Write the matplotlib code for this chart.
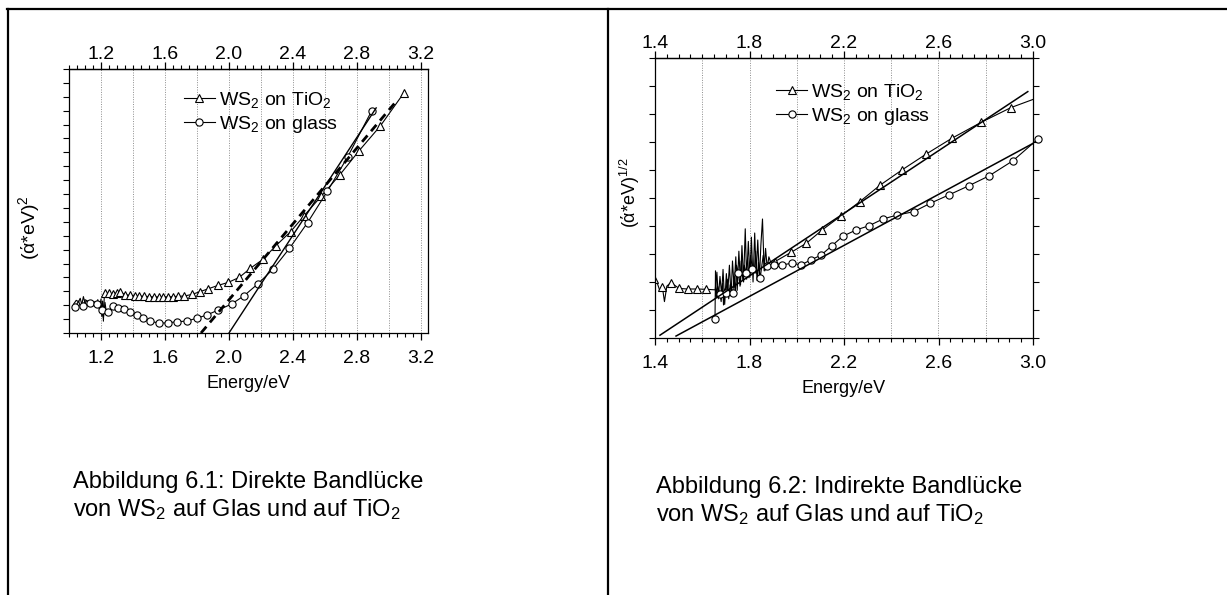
import numpy as np
import matplotlib
matplotlib.use('Agg')
import matplotlib.pyplot as plt
from matplotlib.lines import Line2D
from matplotlib.ticker import FixedLocator, MultipleLocator, NullFormatter, FormatStrFormatter

plt.rcParams['font.family'] = ['Liberation Sans', 'DejaVu Sans']
plt.rcParams['mathtext.fontset'] = 'custom'
plt.rcParams['mathtext.rm'] = 'Liberation Sans'
plt.rcParams['mathtext.it'] = 'Liberation Sans'
plt.rcParams['mathtext.bf'] = 'Liberation Sans'

# === data: direct band gap (left) ===
dir_ticks = [1.2, 1.6, 2.0, 2.4, 2.8, 3.2]
dir_tio2_x = [1.225, 1.25, 1.275, 1.30, 1.32, 1.35, 1.38, 1.41, 1.44, 1.47, 1.50, 1.53, 1.56,
              1.59, 1.62, 1.65, 1.68, 1.72, 1.77, 1.82, 1.87, 1.93, 1.995, 2.064, 2.133,
              2.212, 2.291, 2.385, 2.47, 2.578, 2.694, 2.812, 2.946, 3.094]
dir_tio2_y = [2.85, 2.88, 2.80, 2.90, 2.97, 2.75, 2.72, 2.68, 2.66, 2.64, 2.62, 2.60, 2.60,
              2.60, 2.60, 2.62, 2.64, 2.66, 2.78, 2.98, 3.18, 3.42, 3.64, 4.00, 4.65,
              5.30, 6.26, 7.29, 8.45, 9.86, 11.4, 13.1, 14.9, 17.29]
# noisy part of the TiO2 trace, drawn without markers
dir_tio2_nx = [1.03, 1.045, 1.06, 1.07, 1.08, 1.09, 1.10, 1.11, 1.12, 1.135, 1.15, 1.16,
               1.17, 1.18, 1.19, 1.20, 1.205, 1.21, 1.215, 1.22]
dir_tio2_ny = [2.10, 2.35, 2.25, 2.50, 2.05, 2.62, 2.15, 2.35, 2.20, 2.30, 2.10, 2.25,
               2.05, 2.40, 1.70, 2.45, 1.20, 2.30, 0.85, 2.50]
dir_glass_x = [1.04, 1.09, 1.131, 1.173, 1.204, 1.246, 1.277, 1.308, 1.344, 1.381, 1.423,
               1.465, 1.506, 1.565, 1.621, 1.677, 1.735, 1.798, 1.86, 1.933, 2.017, 2.094,
               2.18, 2.274, 2.378, 2.491, 2.615, 2.743, 2.891]
dir_glass_y = [1.89, 1.94, 2.18, 2.09, 1.65, 1.53, 1.94, 1.82, 1.70, 1.53, 1.29,
               1.06, 0.86, 0.70, 0.74, 0.81, 0.86, 1.06, 1.29, 1.65, 2.09, 2.68,
               3.53, 4.58, 6.09, 7.94, 10.2, 12.7, 15.97]
dir_glass_nx = [1.06, 1.075, 1.10, 1.15, 1.19, 1.215, 1.225, 1.235]
dir_glass_ny = [2.30, 1.75, 2.40, 1.95, 2.25, 1.10, 2.20, 1.35]
dir_fit_solid_x = [2.0, 2.92]
dir_fit_solid_y = [0.0, 16.2]
dir_fit_dash_x = [1.825, 3.04]
dir_fit_dash_y = [0.0, 16.6]

# === data: indirect band gap (right) ===
ind_ticks = [1.4, 1.8, 2.2, 2.6, 3.0]
ind_tio2_x = [1.397, 1.431, 1.467, 1.502, 1.538, 1.577, 1.616, 1.908, 1.976, 2.04, 2.108,
              2.187, 2.267, 2.353, 2.445, 2.548, 2.656, 2.78, 2.907]
ind_tio2_y = [2.10, 1.83, 1.98, 1.77, 1.75, 1.75, 1.74, 2.73, 3.06, 3.38, 3.86,
              4.36, 4.87, 5.46, 6.00, 6.57, 7.13, 7.70, 8.23]
ind_tio2_nx = [1.41, 1.42, 1.44, 1.45, 1.655, 1.662, 1.668, 1.675, 1.682, 1.688, 1.695,
               1.702, 1.708, 1.715, 1.722, 1.728, 1.735, 1.742, 1.748, 1.755, 1.762,
               1.768, 1.775, 1.782, 1.788, 1.795, 1.802, 1.808, 1.815, 1.822, 1.828,
               1.835, 1.842, 1.848, 1.855, 1.862, 1.868, 1.875, 1.882, 1.890, 3.0]
ind_tio2_ny = [1.95, 1.70, 1.30, 1.85, 1.72, 2.35, 1.40, 2.20, 1.55, 2.45, 1.20,
               2.30, 1.65, 2.60, 1.50, 2.75, 1.80, 2.90, 1.70, 3.10, 1.90,
               3.30, 2.00, 3.90, 2.10, 3.45, 2.20, 3.60, 2.00, 3.75, 2.30,
               3.50, 2.10, 3.30, 4.25, 2.40, 3.20, 2.50, 2.90, 2.70, 8.52]
ind_glass_x = [1.654, 1.675, 1.70, 1.729, 1.753, 1.784, 1.812, 1.845, 1.873, 1.905, 1.938,
               1.979, 2.018, 2.06, 2.103, 2.148, 2.196, 2.252, 2.306, 2.365, 2.424,
               2.495, 2.565, 2.644, 2.729, 2.814, 2.915, 3.02]
ind_glass_y = [0.67, 1.57, 1.62, 1.60, 2.33, 2.31, 2.45, 2.13, 2.57, 2.61, 2.61,
               2.67, 2.61, 2.79, 2.96, 3.29, 3.64, 3.86, 4.01, 4.25, 4.39,
               4.51, 4.81, 5.11, 5.44, 5.79, 6.33, 7.10]
ind_glass_nx = [1.656, 1.660, 1.665, 1.680, 1.686, 1.690, 1.695, 1.706, 1.712, 1.718,
                1.735, 1.740, 1.745, 1.760, 1.765, 1.772, 1.778, 1.792, 1.798, 1.805,
                1.820, 1.826, 1.832, 1.838, 1.858, 1.865]
ind_glass_ny = [2.40, 1.45, 1.85, 1.30, 1.95, 1.18, 1.75, 2.10, 1.40, 1.90,
                2.20, 1.55, 2.60, 1.85, 2.75, 2.05, 2.60, 2.85, 2.15, 2.95,
                2.35, 3.10, 2.05, 2.70, 2.95, 2.40]
ind_fit1_x = [1.421, 2.978]
ind_fit1_y = [0.10, 8.80]
ind_fit2_x = [1.489, 3.0]
ind_fit2_y = [0.07, 6.95]

labels = [r'WS$_2$ on TiO$_2$', r'WS$_2$ on glass']

W, H = 1227, 595
MS = 5.2
fig = plt.figure(figsize=(W / 100, H / 100), dpi=100)


def px_axes(l, t, r, b):
    return fig.add_axes([l / W, 1 - b / H, (r - l) / W, (b - t) / H])


def trace(ax, mx, my, nx, ny, marker, clip=True):
    x = np.concatenate([mx, nx])
    y = np.concatenate([my, ny])
    o = np.argsort(x)
    ax.plot(x[o], y[o], color='black', lw=0.8, clip_on=clip)
    ax.plot(mx, my, ls='none', marker=marker, ms=MS, mfc='white', mec='black',
            mew=0.8, clip_on=clip)


def style(ax, ticks, xlim, ylim, grid, right_ticks):
    ax.set_xlim(*xlim)
    ax.set_ylim(*ylim)
    for g in grid:
        ax.axvline(g, color='#8c8c8c', ls=(0, (1, 1.5)), lw=0.7, zorder=0)
    ax.xaxis.set_major_locator(FixedLocator(ticks))
    ax.xaxis.set_minor_locator(MultipleLocator(0.05))
    ax.xaxis.set_major_formatter(FormatStrFormatter('%.1f'))
    ax.yaxis.set_major_locator(MultipleLocator(1))
    ax.yaxis.set_major_formatter(NullFormatter())
    ax.tick_params(axis='x', which='major', direction='out', length=5, width=0.9,
                   labelsize=14, pad=7)
    ax.tick_params(axis='x', which='minor', direction='out', length=3, width=0.8)
    ax.tick_params(axis='y', direction='out', length=4, width=0.8)
    if right_ticks:
        ax.tick_params(axis='y', which='major', right=True)
    sec = ax.secondary_xaxis('top')
    sec.xaxis.set_major_locator(FixedLocator(ticks))
    sec.xaxis.set_minor_locator(MultipleLocator(0.05))
    sec.xaxis.set_major_formatter(FormatStrFormatter('%.1f'))
    sec.tick_params(axis='x', which='major', direction='out', length=5, width=0.9,
                    labelsize=14, pad=-1)
    sec.tick_params(axis='x', which='minor', direction='out', length=3, width=0.8)
    for s in ax.spines.values():
        s.set_linewidth(0.9)
    sec.spines['top'].set_linewidth(0.9)
    ax.set_xlabel('Energy/eV', fontsize=13, labelpad=6)


def legend(ax, anchor):
    handles = [Line2D([], [], color='black', lw=0.8, marker=m, ms=MS, mfc='white',
                      mec='black', mew=0.8) for m in ['^', 'o']]
    ax.legend(handles, labels, loc='upper left', bbox_to_anchor=anchor, frameon=False,
              fontsize=14, handlelength=1.6, handletextpad=0.2, labelspacing=0.2,
              borderpad=0, borderaxespad=0)


# --- left panel ---
ax1 = px_axes(69, 69, 428, 333)
trace(ax1, dir_tio2_x, dir_tio2_y, dir_tio2_nx, dir_tio2_ny, '^')
trace(ax1, dir_glass_x, dir_glass_y, dir_glass_nx, dir_glass_ny, 'o')
ax1.plot(dir_fit_solid_x, dir_fit_solid_y, color='black', lw=1.0)
ax1.plot(dir_fit_dash_x, dir_fit_dash_y, color='black', lw=2.0, ls=(0, (3, 2)))
style(ax1, dir_ticks, (1.0, 3.244), (0, 19), np.arange(1.2, 3.21, 0.2), False)
ax1.set_ylabel('(ά*eV)$^2$', fontsize=14)
ax1.yaxis.set_label_coords(-0.075, 0.40)
legend(ax1, (0.32, 0.92))

# --- right panel ---
ax2 = px_axes(655, 58, 1033, 338)
trace(ax2, ind_tio2_x, ind_tio2_y, ind_tio2_nx, ind_tio2_ny, '^')
trace(ax2, ind_glass_x, ind_glass_y, ind_glass_nx, ind_glass_ny, 'o', clip=False)
ax2.plot(ind_fit1_x, ind_fit1_y, color='black', lw=1.1)
ax2.plot(ind_fit2_x, ind_fit2_y, color='black', lw=1.1)
style(ax2, ind_ticks, (1.4, 3.0), (0, 10), np.arange(1.6, 2.81, 0.2), True)
ax2.set_ylabel('(ά*eV)$^{1/2}$', fontsize=13)
ax2.yaxis.set_label_coords(-0.034, 0.52)
legend(ax2, (0.32, 0.915))

# --- captions ---
CAP = 17
fig.text(73 / W, 1 - 482 / H, 'Abbildung 6.1: Direkte Bandlücke', fontsize=CAP, va='center')
fig.text(73 / W, 1 - 510 / H, 'von WS$_2$ auf Glas und auf TiO$_2$', fontsize=CAP, va='center')
fig.text(656 / W, 1 - 487 / H, 'Abbildung 6.2: Indirekte Bandlücke', fontsize=CAP, va='center')
fig.text(656 / W, 1 - 515 / H, 'von WS$_2$ auf Glas und auf TiO$_2$', fontsize=CAP, va='center')

# --- table borders ---
fig.add_artist(Line2D([7 / W, 1], [1 - 9 / H, 1 - 9 / H], transform=fig.transFigure,
                      color='black', lw=1.6))
fig.add_artist(Line2D([8 / W, 8 / W], [0, 1 - 9 / H], transform=fig.transFigure,
                      color='black', lw=1.6))
fig.add_artist(Line2D([608 / W, 608 / W], [0, 1 - 9 / H], transform=fig.transFigure,
                      color='black', lw=1.6))

fig.savefig('out.png', dpi=100)
